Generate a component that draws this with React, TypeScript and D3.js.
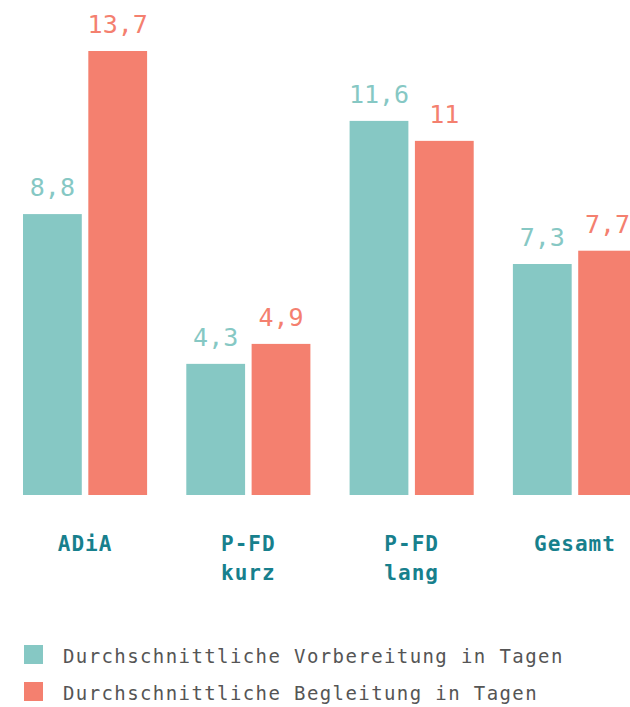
import React from "react";
import * as d3 from "d3";

const categories = [["ADiA"], ["P-FD", "kurz"], ["P-FD", "lang"], ["Gesamt"]];
const categoryKeys = ["ADiA", "P-FD kurz", "P-FD lang", "Gesamt"];
const seriesNames = [
  "Durchschnittliche Vorbereitung in Tagen",
  "Durchschnittliche Begleitung in Tagen",
];
const vorbereitung = [8.8, 4.3, 11.6, 7.3];
const begleitung = [13.7, 4.9, 11, 7.7];
const valueLabels = [
  ["8,8", "4,3", "11,6", "7,3"],
  ["13,7", "4,9", "11", "7,7"],
];
const colors = ["#86C8C4", "#F4806F"];
const yMin = 0.36;

const W = 630;
const H = 707;

export default function App() {
  const series = [vorbereitung, begleitung];
  const x0 = d3.scaleBand<string>().domain(categoryKeys).range([23, 637]).paddingInner(0.24).paddingOuter(0);
  const x1 = d3.scaleBand<number>().domain([0, 1]).range([0, x0.bandwidth()]).paddingInner(0.1).paddingOuter(0);
  const y = d3.scaleLinear().domain([yMin, 13.7]).range([495, 51]);

  return (
    <div style={{ position: "absolute", left: 0, top: 0 }}>
      <svg width={W} height={H} style={{ display: "block", background: "#fff" }}>
        {categoryKeys.map((c, i) => (
          <g key={c} transform={`translate(${x0(c)},0)`}>
            {series.map((s, j) => (
              <g key={j}>
                <rect
                  x={x1(j)}
                  y={y(s[i])}
                  width={x1.bandwidth()}
                  height={y(yMin) - y(s[i])}
                  fill={colors[j]}
                />
                <text
                  x={(x1(j) as number) + x1.bandwidth() / 2}
                  y={y(s[i]) - 18}
                  textAnchor="middle"
                  fill={colors[j]}
                  fontFamily="DejaVu Sans Mono"
                  fontSize={25}
                  letterSpacing={0}
                >
                  {valueLabels[j][i]}
                </text>
              </g>
            ))}
            {categories[i].map((line, k) => (
              <text
                key={k}
                x={x0.bandwidth() / 2}
                y={551 + k * 29}
                textAnchor="middle"
                fill="#17808D"
                fontFamily="DejaVu Sans Mono"
                fontWeight="bold"
                fontSize={21}
                letterSpacing={1}
              >
                {line}
              </text>
            ))}
          </g>
        ))}
        {seriesNames.map((n, j) => (
          <g key={n} transform={`translate(24,${645 + j * 37})`}>
            <rect x={0} y={0} width={19} height={19} fill={colors[j]} />
            <text
              x={39}
              y={18}
              fill="#555"
              fontFamily="DejaVu Sans Mono"
              fontSize={19}
              letterSpacing={1.4}
            >
              {n}
            </text>
          </g>
        ))}
      </svg>
    </div>
  );
}
